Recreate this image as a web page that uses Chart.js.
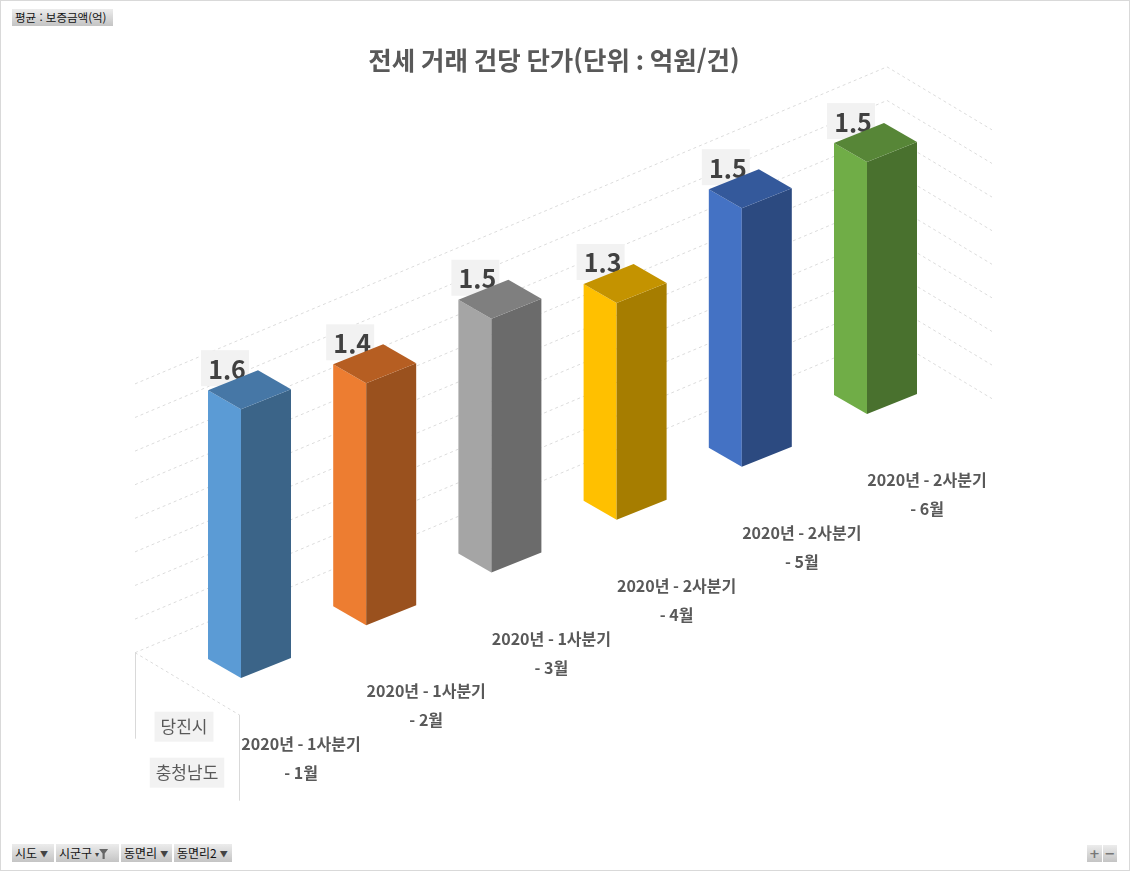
<!DOCTYPE html>
<html lang="ko">
<head>
<meta charset="utf-8">
<title>전세 거래 건당 단가</title>
<script src="https://cdn.jsdelivr.net/npm/chart.js@4.4.1/dist/chart.umd.min.js"></script>
<style>
  body { margin: 0; background: #fff; }
  #wrap { position: relative; width: 1130px; height: 871px; overflow: hidden; }
  #wrap .frame { position: absolute; left: 0; top: 0; right: 0; bottom: 0; border: 1px solid #d9d9d9; pointer-events: none; }
  .btn { position: absolute; height: 18px; line-height: 18px; font: 12px "Noto Sans CJK KR", sans-serif; color: #111;
         background: linear-gradient(#ececec, #c4c4c4); padding: 0 3px; box-sizing: border-box; white-space: nowrap; }
  .arrow { font-size: 8px; color: #444; margin-left: 3px; vertical-align: 1px; }
  .funnel { display: inline-block; width: 9px; height: 10px; background: #666; vertical-align: -1px;
            clip-path: polygon(0 0, 100% 0, 62% 45%, 62% 100%, 38% 100%, 38% 45%); }
  .pm { text-align: center; color: #777; font: bold 13px "DejaVu Sans", sans-serif; padding: 0; }
</style>
</head>
<body>
<div id="wrap">
  <canvas id="jeonse" width="1130" height="871"></canvas>
  <div class="btn" style="left:12px;top:9px;width:101px;height:17px;line-height:17px;font-size:11.5px;">평균 : 보증금액(억)</div>
  <div class="btn" style="left:12px;top:844px;width:42px;">시도<span class="arrow">▼</span></div>
  <div class="btn" style="left:56px;top:844px;width:63px;">시군구<span class="arrow">▾</span><span class="funnel"></span></div>
  <div class="btn" style="left:121px;top:844px;width:51px;">동면리<span class="arrow">▼</span></div>
  <div class="btn" style="left:174px;top:844px;width:58px;">동면리2<span class="arrow">▼</span></div>
  <div class="btn pm" style="left:1087px;top:845px;width:15px;height:17px;line-height:17px;">+</div>
  <div class="btn pm" style="left:1103px;top:845px;width:14px;height:17px;line-height:17px;">−</div>
  <div class="frame"></div>
</div>
<script>
// data
var categories = [
    ['2020년 - 1사분기', '- 1월'],
    ['2020년 - 1사분기', '- 2월'],
    ['2020년 - 1사분기', '- 3월'],
    ['2020년 - 2사분기', '- 4월'],
    ['2020년 - 2사분기', '- 5월'],
    ['2020년 - 2사분기', '- 6월']
];
var values = [1.6, 1.44, 1.51, 1.29, 1.54, 1.5];
var outerLabels = ['당진시', '충청남도'];
var yMin = 0, yMax = 1.6, yStep = 0.2;

// face colours: front (light), side (dark), top
var lightFaces = ['#5b9bd5', '#ed7d31', '#a5a5a5', '#ffc000', '#4472c4', '#70ad47'];
var darkFaces = ['#3b6488', '#9a511e', '#6b6b6b', '#a67d00', '#2c4a80', '#49712e'];
var topFaces = ['#4677a6', '#b65e22', '#7f7f7f', '#c49300', '#34599b', '#578637'];

var FONT = '"Noto Sans CJK KR", "Noto Sans", sans-serif';
var SLOPE = 0.4216;          // floor rise per px along the category axis
var LEFT_V = [-33, -19];     // depth edge of a column
var RIGHT_V = [50, -20];     // width edge of a column
var WALL_LEFT = 135, WALL_CORNER = 887, WALL_BACK = -70, SIDE_V = [105, 63];

function poly(ctx, pts, color) {
    ctx.beginPath();
    ctx.moveTo(pts[0][0], pts[0][1]);
    for (var i = 1; i < pts.length; i++) ctx.lineTo(pts[i][0], pts[i][1]);
    ctx.closePath();
    ctx.fillStyle = color;
    ctx.fill();
}

function floorAt(chart, px) {
    return chart.scales.y.getPixelForValue(yMin) - (px - chart.chartArea.left) * SLOPE;
}

var threeD = {
    id: 'threeD',
    beforeDatasetsDraw: function (chart) {
        var ctx = chart.ctx, ys = chart.scales.y;
        var zero = ys.getPixelForValue(yMin);
        ctx.save();
        ctx.strokeStyle = '#dcdcdc';
        ctx.lineWidth = 1;
        ctx.setLineDash([3, 3]);
        ys.ticks.forEach(function (t) {
            var h = zero - ys.getPixelForValue(t.value);
            var yl = floorAt(chart, WALL_LEFT) + WALL_BACK - h;
            var yc = floorAt(chart, WALL_CORNER) + WALL_BACK - h;
            ctx.beginPath();
            ctx.moveTo(WALL_LEFT, yl);
            ctx.lineTo(WALL_CORNER, yc);
            ctx.lineTo(WALL_CORNER + SIDE_V[0], yc + SIDE_V[1]);
            ctx.stroke();
        });
        // floor left edge
        var fl = floorAt(chart, WALL_LEFT) + WALL_BACK;
        ctx.beginPath();
        ctx.moveTo(WALL_LEFT, fl);
        ctx.lineTo(WALL_LEFT + 104, fl + 62);
        ctx.stroke();
        // outer label separators
        ctx.setLineDash([]);
        ctx.strokeStyle = '#d9d9d9';
        ctx.beginPath();
        ctx.moveTo(WALL_LEFT + 0.5, fl);
        ctx.lineTo(WALL_LEFT + 0.5, fl + 86);
        ctx.moveTo(WALL_LEFT + 104.5, fl + 62);
        ctx.lineTo(WALL_LEFT + 104.5, fl + 148);
        ctx.stroke();

        // outer category labels
        ctx.font = '17px ' + FONT;
        ctx.textAlign = 'center';
        ctx.textBaseline = 'middle';
        [[184, fl + 74], [187, fl + 120]].forEach(function (p, i) {
            var w = ctx.measureText(outerLabels[i]).width + 12;
            ctx.fillStyle = '#f2f2f2';
            ctx.fillRect(p[0] - w / 2, p[1] - 15, w, 30);
            ctx.fillStyle = '#595959';
            ctx.fillText(outerLabels[i], p[0], p[1]);
        });
        ctx.restore();
    },
    afterDatasetsDraw: function (chart) {
        var ctx = chart.ctx;
        var bars = chart.getDatasetMeta(0).data;
        ctx.save();
        ctx.textAlign = 'center';
        ctx.textBaseline = 'middle';
        var geo = bars.map(function (bar) {
            var fx = bar.x;
            var bottom = floorAt(chart, fx);
            return { fx: fx, bottom: bottom, top: bottom - (bar.base - bar.y) };
        });
        // category labels
        ctx.font = 'bold 16px ' + FONT;
        ctx.fillStyle = '#595959';
        geo.forEach(function (g, i) {
            ctx.fillText(categories[i][0], g.fx + 60, g.bottom + 66);
            ctx.fillText(categories[i][1], g.fx + 60, g.bottom + 95);
        });
        // value labels (behind the column tops)
        ctx.font = 'bold 25px ' + FONT;
        geo.forEach(function (g, i) {
            var cx = g.fx - 16, cy = g.top - 41;
            ctx.fillStyle = '#f2f2f2';
            ctx.fillRect(cx - 24, cy - 18, 48, 36);
            ctx.fillStyle = '#404040';
            ctx.fillText(values[i].toFixed(1), cx + 2, cy + 1);
        });
        // columns
        geo.forEach(function (g, i) {
            var fx = g.fx, t = g.top, b = g.bottom;
            poly(ctx, [[fx + LEFT_V[0], t + LEFT_V[1]], [fx, t], [fx, b], [fx + LEFT_V[0], b + LEFT_V[1]]], lightFaces[i]);
            poly(ctx, [[fx, t], [fx + RIGHT_V[0], t + RIGHT_V[1]], [fx + RIGHT_V[0], b + RIGHT_V[1]], [fx, b]], darkFaces[i]);
            poly(ctx, [[fx + LEFT_V[0], t + LEFT_V[1]], [fx, t], [fx + RIGHT_V[0], t + RIGHT_V[1]],
                [fx + LEFT_V[0] + RIGHT_V[0], t + LEFT_V[1] + RIGHT_V[1]]], topFaces[i]);
        });
        ctx.restore();
    }
};

var canvas = document.getElementById('jeonse').getContext('2d');
var jeonse = new Chart(canvas, {
    type: 'bar',
    data: {
        labels: categories,
        datasets: [{
            label: '평균 : 보증금액(억)',
            data: values,
            backgroundColor: 'rgba(0,0,0,0)',
            borderWidth: 0
        }]
    },
    options: {
        responsive: false,
        animation: false,
        layout: {
            padding: {
                left: 178.4,
                right: 200.4,
                top: 0,
                bottom: 166.6
            }
        },
        plugins: {
            title: {
                display: true,
                text: '전세 거래 건당 단가(단위 : 억원/건)',
                color: '#595959',
                font: { family: FONT, size: 25.5, weight: 'bold' },
                padding: { top: 45, bottom: 360 }
            },
            legend: { display: false },
            tooltip: { enabled: false }
        },
        scales: {
            x: { display: false },
            y: {
                display: false,
                min: yMin,
                max: yMax,
                ticks: { stepSize: yStep }
            }
        }
    },
    plugins: [threeD]
});
</script>
</body>
</html>
